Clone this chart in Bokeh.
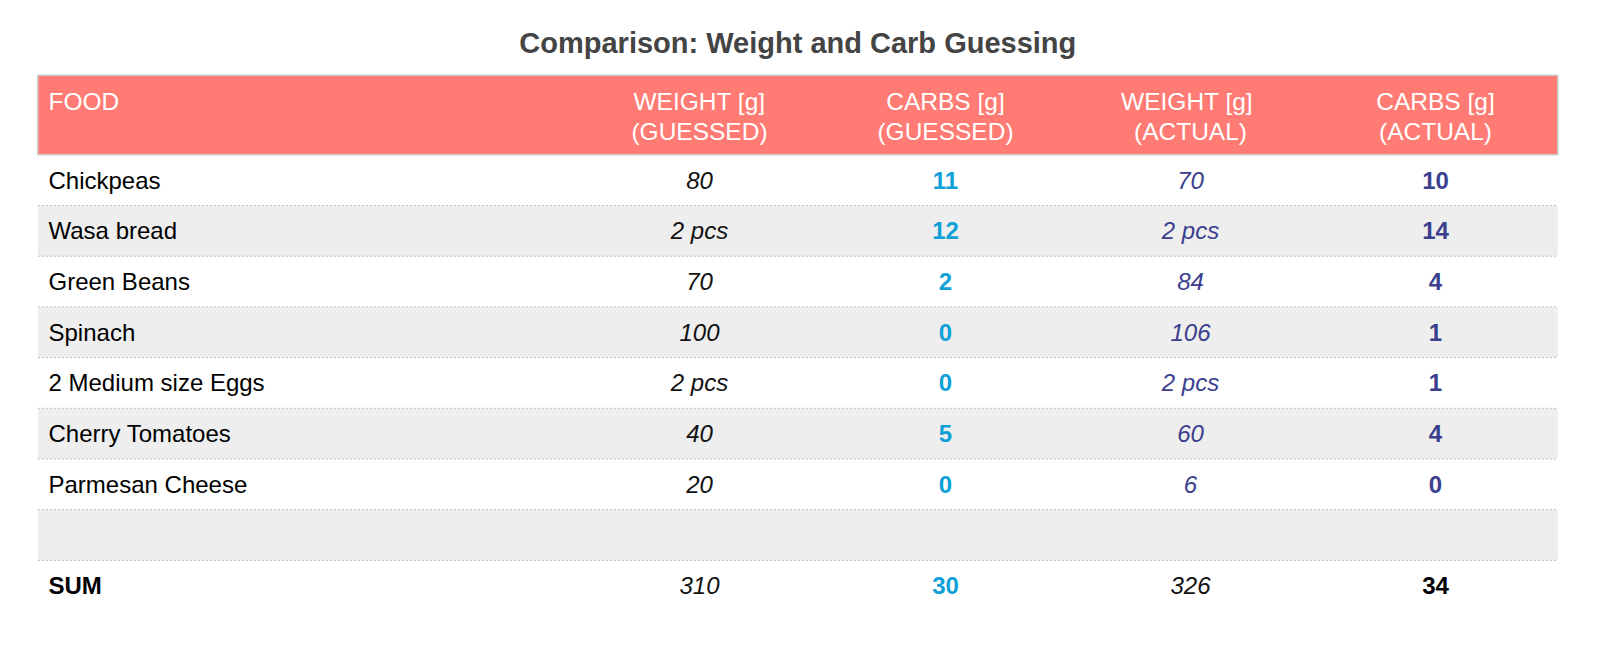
from bokeh.plotting import figure
from bokeh.models import Range1d
from bokeh.embed import file_html
from bokeh.resources import INLINE
from bokeh.core.properties import value

# ---------------- data ----------------
title = "Comparison: Weight and Carb Guessing"
header_line1 = ["FOOD", "WEIGHT [g]", "CARBS [g]", "WEIGHT  [g]", "CARBS [g]"]
header_line2 = ["", "(GUESSED)", "(GUESSED)", "(ACTUAL)", "(ACTUAL)"]
foods = ["Chickpeas", "Wasa bread", "Green Beans", "Spinach", "2 Medium size Eggs",
         "Cherry Tomatoes", "Parmesan Cheese", "", "SUM"]
weight_guessed = ["80", "2 pcs", "70", "100", "2 pcs", "40", "20", "", "310"]
carbs_guessed = ["11", "12", "2", "0", "0", "5", "0", "", "30"]
weight_actual = ["70", "2 pcs", "84", "106", "2 pcs", "60", "6", "", "326"]
carbs_actual = ["10", "14", "4", "1", "1", "4", "0", "", "34"]

# ---------------- layout (pixel units, y downward) ----------------
W, H = 1604, 648
FONT = value("Liberation Sans")
left, right = 37.3, 1557.3
head_top, head_bot = 74.7, 154.3
row_h = 50.7
food_x = 48
col_x = [699, 945, 1190, 1435]

CYAN = "#0FA0D8"
INDIGO = "#3B3F8E"
HEAD = "#FF7B73"
BODY_SIZE = "24px"

p = figure(width=W, height=H, output_backend="svg", toolbar_location=None,
           x_range=Range1d(0, W), y_range=Range1d(H, 0), min_border=0)
p.axis.visible = False
p.grid.visible = False
p.outline_line_color = None
p.background_fill_color = "white"
p.border_fill_color = "white"

n = len(foods)
tops = [head_bot + i * row_h for i in range(n)]
bots = [t + row_h for t in tops]
mids = [t + row_h / 2 for t in tops]

# alternate row backgrounds
gray_rows = [i for i in range(n) if i % 2 == 1]
p.quad(left=[left] * len(gray_rows), right=[right] * len(gray_rows),
       top=[tops[i] for i in gray_rows], bottom=[bots[i] for i in gray_rows],
       fill_color="#EEEEEE", line_color=None)

# dotted separators
sep_y = [bots[i] for i in range(n - 1)]
p.segment(x0=[left] * len(sep_y), x1=[right] * len(sep_y), y0=sep_y, y1=sep_y,
          line_color="#BDBDBD", line_width=1, line_dash="2 2")

# header
p.quad(left=[left], right=[right], top=[head_top], bottom=[head_bot],
       fill_color=HEAD, line_color="#CCCCCC", line_width=1.5)

hx = [food_x] + col_x
halign = ["left"] + ["center"] * 4
p.text(x=hx, y=[head_top + 26] * 5, text=header_line1, text_align=halign,
       text_baseline="middle", text_font=FONT, text_font_size="24.5px", text_color="white")
p.text(x=hx, y=[head_top + 56.5] * 5, text=header_line2, text_align=halign,
       text_baseline="middle", text_font=FONT, text_font_size="24.5px", text_color="white")

# title
p.text(x=[(left + right) / 2], y=[42], text=[title], text_align="center",
       text_baseline="middle", text_font=FONT, text_font_size="29px",
       text_color="#444444", text_font_style="bold")

# body
is_sum = [f == "SUM" for f in foods]
p.text(x=[food_x] * n, y=mids, text=foods, text_align="left", text_baseline="middle",
       text_font=FONT, text_font_size=BODY_SIZE,
       text_font_style=["bold" if s else "normal" for s in is_sum], text_color="black")

p.text(x=[col_x[0]] * n, y=mids, text=weight_guessed, text_align="center",
       text_baseline="middle", text_font=FONT, text_font_size=BODY_SIZE,
       text_font_style="italic", text_color="#111111")
p.text(x=[col_x[1]] * n, y=mids, text=carbs_guessed, text_align="center",
       text_baseline="middle", text_font=FONT, text_font_size=BODY_SIZE,
       text_font_style="bold", text_color=CYAN)
p.text(x=[col_x[2]] * n, y=mids, text=weight_actual, text_align="center",
       text_baseline="middle", text_font=FONT, text_font_size=BODY_SIZE,
       text_font_style="italic", text_color=["#111111" if s else INDIGO for s in is_sum])
p.text(x=[col_x[3]] * n, y=mids, text=carbs_actual, text_align="center",
       text_baseline="middle", text_font=FONT, text_font_size=BODY_SIZE,
       text_font_style="bold", text_color=["black" if s else INDIGO for s in is_sum])

open("out.html", "w").write(file_html(p, INLINE))
